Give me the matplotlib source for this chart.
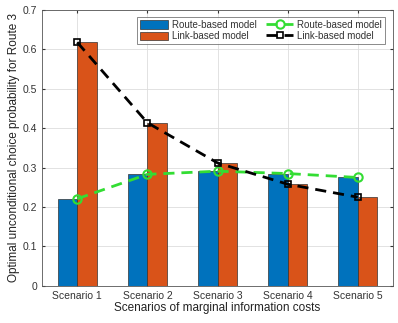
import numpy as np
import matplotlib.pyplot as plt

plt.rcParams['font.family'] = ['Liberation Sans', 'DejaVu Sans']

scenarios = ['Scenario 1', 'Scenario 2', 'Scenario 3', 'Scenario 4', 'Scenario 5']
route_based = [0.221, 0.283, 0.291, 0.285, 0.275]
link_based = [0.618, 0.414, 0.312, 0.258, 0.225]

fig = plt.figure(figsize=(3.98, 3.23), dpi=100)
ax = fig.add_axes([0.106, 0.115, 0.881, 0.854])

x = np.arange(1, len(scenarios) + 1)
w = 0.28

# grouped bars, MATLAB-ish colours
b1 = ax.bar(x - w / 2, route_based, w, color='#0072BD', edgecolor='#333333', linewidth=0.5,
            label='Route-based model', zorder=2)
b2 = ax.bar(x + w / 2, link_based, w, color='#D95319', edgecolor='#333333', linewidth=0.5,
            label='Link-based model', zorder=2)

# trend lines over the group centres
l1, = ax.plot(x, route_based, '--o', color='#33DD33', lw=2, ms=6, mfc='none', mew=1.5,
              dashes=(4, 2.5), label='Route-based model', zorder=3)
l2, = ax.plot(x, link_based, '--s', color='black', lw=2, ms=5, mfc='none', mew=1.2,
              dashes=(4, 2.5), label='Link-based model', zorder=3)

ax.set_xlim(0.5, 5.5)
ax.set_ylim(0, 0.7)
ax.set_xticks(x)
ax.set_xticklabels(scenarios)
ax.set_yticks(np.arange(0, 0.71, 0.1))
ax.set_yticklabels(['0', '0.1', '0.2', '0.3', '0.4', '0.5', '0.6', '0.7'])
ax.tick_params(labelsize=7.5, colors='#333333', length=2, direction='in', top=True, right=True)
ax.grid(True, color='#dddddd', lw=0.6, zorder=0)
ax.set_axisbelow(True)
for s in ax.spines.values():
    s.set_color('#555555')
    s.set_linewidth(0.6)

ax.set_xlabel('Scenarios of marginal information costs', fontsize=8.5, color='#222222', labelpad=1)
ax.set_ylabel('Optimal unconditional choice probability for Route 3', fontsize=8.5,
              color='#222222', labelpad=2)

leg = ax.legend([b1, b2, l1, l2],
                ['Route-based model', 'Link-based model', 'Route-based model', 'Link-based model'],
                ncol=2, loc='upper right', bbox_to_anchor=(0.977, 0.975), fontsize=7,
                frameon=True, fancybox=False, edgecolor='#555555', handlelength=2.8,
                handleheight=1.0, borderpad=0.3, labelspacing=0.15, columnspacing=1.0,
                handletextpad=0.4, borderaxespad=0, labelcolor='#333333')
leg.get_frame().set_linewidth(0.6)

fig.savefig('out.png', dpi=100)
